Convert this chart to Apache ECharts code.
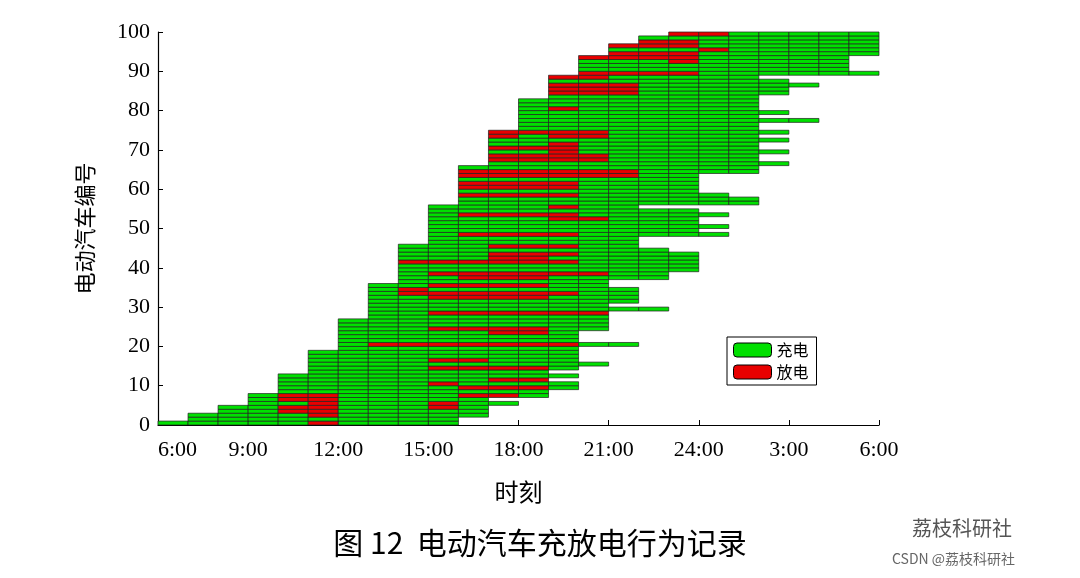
<!DOCTYPE html>
<html><head><meta charset="utf-8">
<script src="https://cdn.jsdelivr.net/npm/echarts@6/dist/echarts.min.js"></script>
<style>html,body{margin:0;padding:0;background:#fff}#c{width:1080px;height:578px}</style>
</head><body><div id="c"></div>
<script>
// hour-column labels (x = hours after 6:00)
const xTickLabels = ['6:00','9:00','12:00','15:00','18:00','21:00','24:00','3:00','6:00'];
// top EV count reached by arrivals in each hourly column
const arrivalTops = [1,3,5,8,13,19,27,36,46,56,66,75,83,89,94,97,99,100];
// departure column (exclusive) per EV 0..99
const departs = [10,10,11,11,11,12,11,13,13,14,14,13,14,13,14,15,14,14,14,14,
  16,14,14,14,15,15,15,15,15,17,15,16,16,16,16,15,15,17,17,18,
  18,18,18,18,17,16,16,16,19,18,19,18,18,19,18,16,20,20,19,18,
  18,18,18,18,20,20,21,20,20,21,20,20,21,20,21,20,20,22,20,21,
  20,20,20,20,21,21,22,21,20,24,23,23,23,23,24,24,24,24,24,24];
// discharge cells: [EV, column]
const dischargeCells = [
 [3,4],[4,4],[6,4],[7,4],[0,5],[2,5],[3,5],[4,5],[5,5],[6,5],[7,5],[4,9],
 [36,6],[20,7],[20,8],[20,9],[20,10],[20,11],[20,12],[20,13],
 [41,8],[41,9],[41,10],[41,11],[41,12],[41,13],[33,8],[34,8],[33,9],[33,10],[33,11],[33,12],[33,13],
 [38,9],[28,9],[24,9],[16,9],[14,9],[10,9],[5,9],
 [43,11],[43,12],[43,13],[38,10],[38,11],[38,12],[38,13],[38,14],[37,10],[37,11],[37,12],
 [35,9],[35,10],[35,11],[35,12],[32,9],[32,10],[32,11],[32,12],
 [28,10],[28,11],[28,12],[28,13],[28,14],[24,10],[24,11],[24,12],[23,11],[23,12],
 [16,10],[14,10],[14,11],[14,12],[11,11],[11,12],[9,10],[9,11],[9,12],[7,10],[7,11],
 [73,11],[73,13],[73,14],[74,11],[74,12],[74,13],[74,14],[70,11],[70,12],[70,13],
 [67,11],[67,12],[67,13],[67,14],[68,11],[68,12],[68,13],[68,14],
 [63,10],[63,11],[63,12],[63,13],[63,14],[63,15],[64,10],[64,11],[64,12],[64,13],[64,14],[64,15],
 [60,10],[60,11],[60,12],[60,13],[61,10],[61,11],[61,12],[61,13],[58,10],[58,11],[58,12],[58,13],
 [55,13],[53,10],[53,11],[53,12],[53,13],[52,13],[52,14],[48,10],[48,11],[48,12],[48,13],
 [45,11],[45,12],[45,13],[42,11],[42,12],
 [99,16],[99,17],[99,18],[96,15],[96,16],[96,17],[97,15],[97,16],[97,17],[95,18],
 [93,14],[93,15],[93,16],[93,17],[94,14],[94,15],[94,16],[94,17],[92,17],
 [89,14],[89,15],[89,16],[89,17],[88,13],[88,14],[84,13],[84,14],[84,15],[85,13],[85,14],[85,15],
 [86,13],[86,14],[86,15],[80,13],[74,13],[71,13],[69,13],[67,13]
];
const redSet = new Set(dischargeCells.map(d=>d[0]+'_'+d[1]));
const cells = [];
for (let k=0;k<100;k++){
  let a = arrivalTops.findIndex(t=>t>k);
  for (let c=a;c<departs[k];c++) cells.push([c,k,redSet.has(k+'_'+c)?1:0]);
}
const GREEN='#00e000', RED='#e80000';
const chart = echarts.init(document.getElementById('c'));
const serif='"Liberation Serif","Times New Roman",serif';
chart.setOption({
  animation:false,
  grid:{left:158,right:201,top:32,bottom:153},
  xAxis:{type:'value',min:0,max:24,interval:3,
    axisLine:{lineStyle:{color:'#000',width:1.2}},
    axisTick:{inside:true,length:5,lineStyle:{color:'#000'}},
    splitLine:{show:false},
    axisLabel:{formatter:v=>xTickLabels[v/3],fontFamily:serif,fontSize:22,color:'#000',margin:14,alignMinLabel:'left'},
    name:'时刻',nameLocation:'middle',nameGap:55,nameTextStyle:{fontSize:24,color:'#000',fontFamily:'"Noto Sans CJK SC"'}},
  yAxis:{type:'value',min:0,max:100,interval:10,
    axisLine:{show:true,lineStyle:{color:'#000',width:1.2}},
    axisTick:{inside:true,length:5,lineStyle:{color:'#000'}},
    splitLine:{show:false},
    axisLabel:{fontFamily:serif,fontSize:22,color:'#000',margin:8},
    name:'电动汽车编号',nameLocation:'middle',nameGap:62,nameTextStyle:{fontSize:22,color:'#000',fontFamily:'"Noto Sans CJK SC"'}},
  legend:{left:727,top:337,orient:'vertical',itemWidth:38,itemHeight:14,itemGap:6,
    borderColor:'#000',borderWidth:1,padding:[5,8,5,6],
    textStyle:{fontSize:16,color:'#000',fontFamily:'"Noto Sans CJK SC"'},
    data:[{name:'充电',itemStyle:{color:GREEN,borderColor:'#000',borderWidth:1}},{name:'放电',itemStyle:{color:RED,borderColor:'#000',borderWidth:1}}]},
  series:[
    {type:'custom',name:'cells',data:cells,encode:{x:0,y:1},
     renderItem:(p,api)=>{
       const c=api.value(0),k=api.value(1),s=api.value(2);
       const p0=api.coord([c,k+1]),p1=api.coord([c+1,k]);
       return {type:'rect',shape:{x:p0[0],y:p0[1],width:p1[0]-p0[0],height:p1[1]-p0[1]},
         style:{fill:s?RED:GREEN,stroke:'#202020',lineWidth:0.7}};
     }},
    {type:'bar',name:'充电',data:[],itemStyle:{color:GREEN}},
    {type:'bar',name:'放电',data:[],itemStyle:{color:RED}}
  ],
  graphic:[
    {type:'text',left:'center',top:528,style:{text:'图 12  电动汽车充放电行为记录',fontSize:30,fill:'#000',fontFamily:'"Noto Sans CJK SC"'}},
    {type:'text',left:912,top:518,style:{text:'荔枝科研社',fontSize:20,fill:'#555',fontFamily:'"Noto Sans CJK SC"'}},
    {type:'text',left:892,top:552,style:{text:'CSDN @荔枝科研社',fontSize:14,fill:'#666',fontFamily:'"Noto Sans CJK SC"'}}
  ]
});
</script></body></html>
